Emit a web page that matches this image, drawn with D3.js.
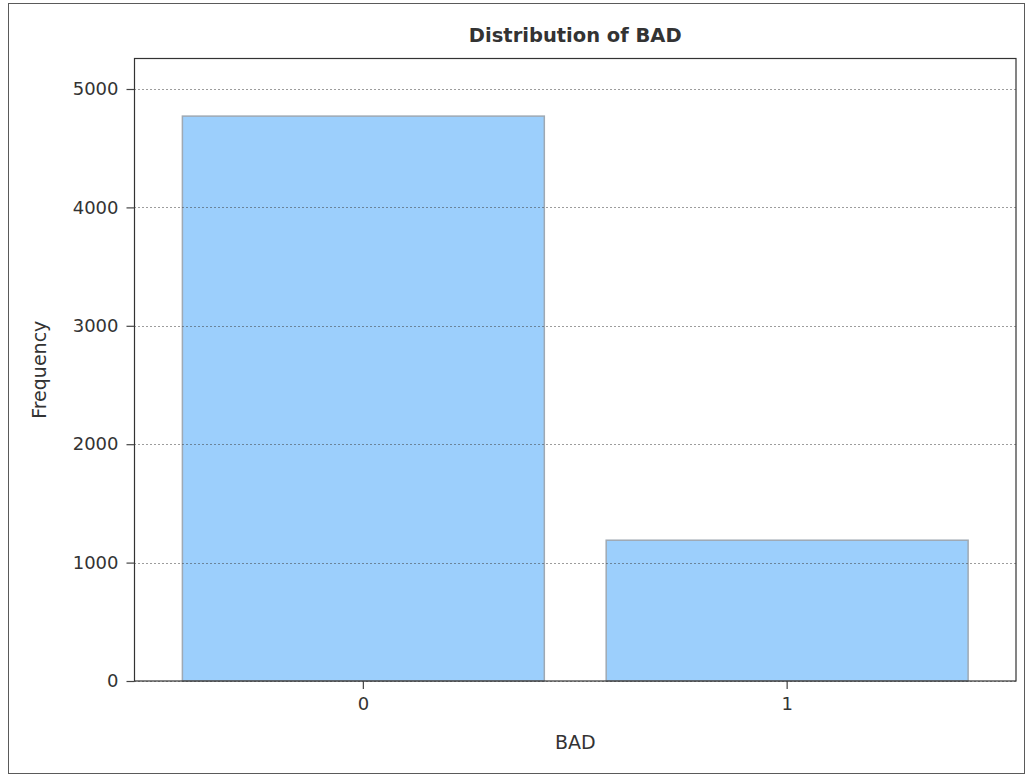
<!DOCTYPE html>
<html>
<head>
<meta charset="utf-8">
<script src="https://cdn.jsdelivr.net/npm/d3@7"></script>
<style>
  html, body { margin: 0; padding: 0; background: #fff; }
  svg { display: block; }
  text { font-family: "DejaVu Sans", Verdana, sans-serif; fill: #333; }
</style>
</head>
<body>
<svg id="chart" width="1026" height="775"></svg>
<script>
const categories = ["0", "1"];
const frequencies = [4771, 1189];
const yTicks = [0, 1000, 2000, 3000, 4000, 5000];
const titleText = "Distribution of BAD";
const xLabel = "BAD";
const yLabel = "Frequency";

const svg = d3.select("#chart");

// outer border
svg.append("rect")
  .attr("x", 8.5).attr("y", 3.5)
  .attr("width", 1016).attr("height", 770)
  .attr("fill", "#fff").attr("stroke", "#5a5a5a").attr("stroke-width", 1);

const plot = { left: 134.5, right: 1016, top: 58.5, bottom: 681 };

const x = d3.scaleBand()
  .domain(categories)
  .range([plot.left, plot.right])
  .paddingInner(0.146)
  .paddingOuter(0.113);

const y = d3.scaleLinear()
  .domain([0, 5000])
  .range([plot.bottom, 89]);

// bars
svg.append("g").selectAll("rect")
  .data(categories)
  .join("rect")
  .attr("x", d => x(d))
  .attr("y", (d, i) => y(frequencies[i]))
  .attr("width", x.bandwidth())
  .attr("height", (d, i) => y(0) - y(frequencies[i]))
  .attr("fill", "#9ccffc")
  .attr("stroke", "#9fa9b3")
  .attr("stroke-width", 1.5);

// gridlines (drawn over bars)
svg.append("g").selectAll("line")
  .data(yTicks)
  .join("line")
  .attr("x1", plot.left).attr("x2", plot.right)
  .attr("y1", d => Math.round(y(d)) + 0.5).attr("y2", d => Math.round(y(d)) + 0.5)
  .attr("stroke", "#3a3a3a")
  .attr("stroke-width", 1)
  .attr("stroke-dasharray", "1,3");

// plot frame
svg.append("rect")
  .attr("x", plot.left).attr("y", plot.top)
  .attr("width", plot.right - plot.left).attr("height", plot.bottom - plot.top)
  .attr("fill", "none").attr("stroke", "#333").attr("stroke-width", 1.2);

// y axis
const yAxis = d3.axisLeft(y).tickValues(yTicks).tickSize(8).tickPadding(8).tickFormat(d3.format("d"));
const gy = svg.append("g").attr("transform", `translate(${plot.left},0)`).call(yAxis);
gy.select(".domain").remove();
gy.selectAll(".tick line").attr("stroke", "#444").attr("stroke-width", 1.2);
gy.selectAll(".tick text").attr("font-size", "18px").attr("fill", "#333")
  .attr("font-family", "DejaVu Sans, sans-serif");

// x axis
const xAxis = d3.axisBottom(x).tickSize(8).tickPadding(8);
const gx = svg.append("g").attr("transform", `translate(0,${plot.bottom})`).call(xAxis);
gx.select(".domain").remove();
gx.selectAll(".tick line").attr("stroke", "#444").attr("stroke-width", 1.2);
gx.selectAll(".tick text").attr("font-size", "18px").attr("fill", "#333")
  .attr("font-family", "DejaVu Sans, sans-serif");

// title
svg.append("text")
  .attr("x", (plot.left + plot.right) / 2)
  .attr("y", 42)
  .attr("text-anchor", "middle")
  .attr("font-size", "19.5px")
  .attr("font-weight", "bold")
  .attr("fill", "#222")
  .text(titleText);

// x label
svg.append("text")
  .attr("x", (plot.left + plot.right) / 2)
  .attr("y", 749)
  .attr("text-anchor", "middle")
  .attr("font-size", "19px")
  .text(xLabel);

// y label
svg.append("text")
  .attr("transform", `translate(46,${(plot.top + plot.bottom) / 2}) rotate(-90)`)
  .attr("text-anchor", "middle")
  .attr("font-size", "19px")
  .text(yLabel);
</script>
</body>
</html>
